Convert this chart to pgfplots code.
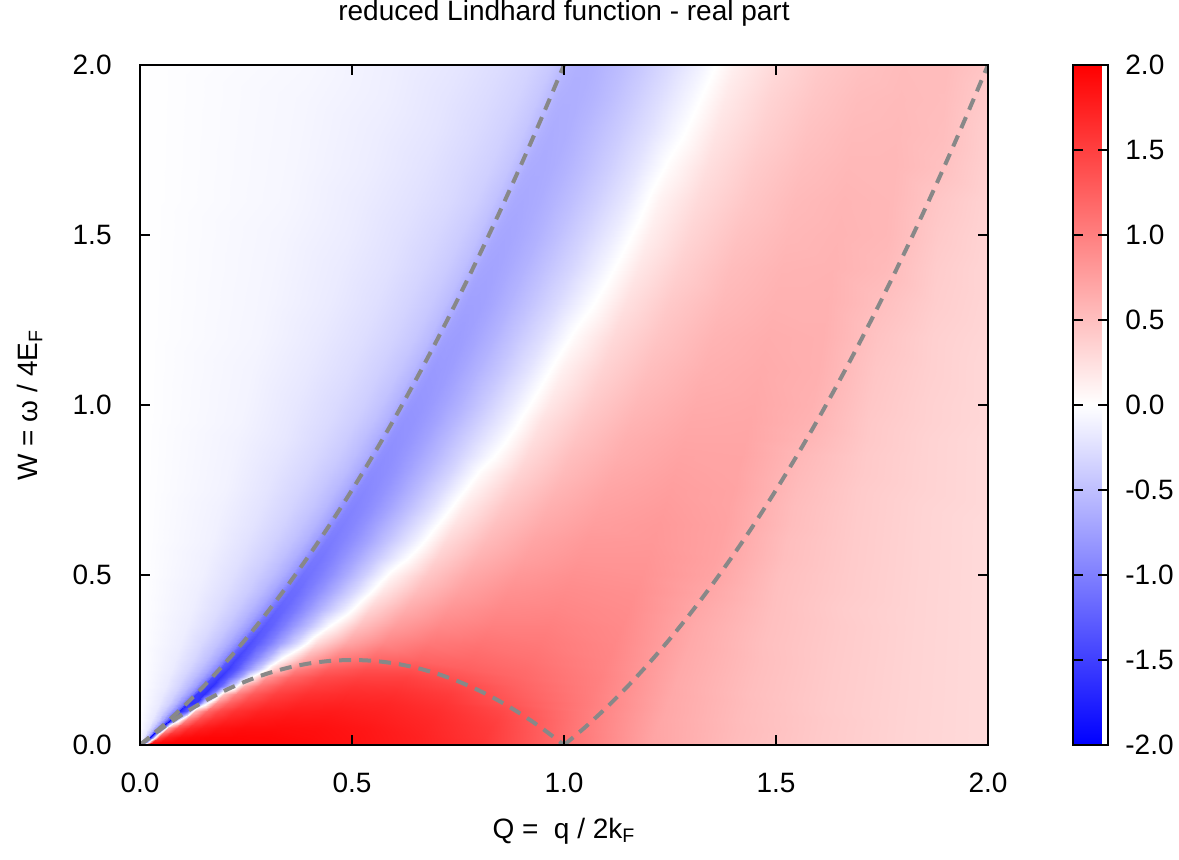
\documentclass[border=0pt]{standalone}
\usepackage{fontspec}
\setmainfont{Liberation Sans}
\usepackage{pgfplots}
\pgfplotsset{compat=1.18}
\definecolor{dashgray}{RGB}{136,136,136}

% Mesh: one row per W; each row holds Qr (position of the upper boundary at that W)
% node positions: c * Qr (left of boundary) and Qr + (2-Qr) * e (right of it)
\ExplSyntaxOn
\tl_new:N \MeshCoords
\clist_new:N \l_my_x_clist
\clist_const:Nn \c_my_c_clist {0,0.4,0.6,0.75,0.85,0.92,0.97}
\clist_const:Nn \c_my_e_clist {0,0.01,0.02,0.035,0.05,0.07,0.1,0.14,0.19,0.25,0.32,0.4,0.5,0.6,0.7,0.8,0.9,1.0}
\int_new:N \l_my_i_int
\NewDocumentCommand \MeshRow { m m m }
 {
  \clist_clear:N \l_my_x_clist
  \clist_map_inline:Nn \c_my_c_clist
   { \clist_put_right:Nx \l_my_x_clist { \fp_eval:n { round(##1 * #2, 4) } } }
  \clist_map_inline:Nn \c_my_e_clist
   { \clist_put_right:Nx \l_my_x_clist { \fp_eval:n { round(#2 + (2 - #2) * ##1, 4) } } }
  \int_zero:N \l_my_i_int
  \clist_map_inline:nn {#3}
   {
    \int_incr:N \l_my_i_int
    \tl_gput_right:Nx \MeshCoords { ( \clist_item:Nn \l_my_x_clist { \l_my_i_int } , #1 ) [ \fp_eval:n { ##1 / 100 } ] }
   }
 }
\ExplSyntaxOff

% values x 100
\MeshRow{0}{0}{200,200,200,200,200,200,200,200,200,200,200,199,199,198,196,192,186,176,158,115,72,54,42,34,29}
\MeshRow{0.01}{0.0099}{0,-21,-44,-73,-106,-147,-200,-200,181,193,197,198,198,197,195,192,185,175,158,113,72,53,42,34,29}
\MeshRow{0.025}{0.0244}{0,-20,-43,-71,-101,-137,-188,-200,139,173,188,192,195,195,194,190,184,174,156,111,71,53,42,34,29}
\MeshRow{0.05}{0.0477}{0,-19,-41,-67,-95,-127,-165,-200,72,136,166,178,186,190,190,188,182,171,153,108,70,53,42,34,29}
\MeshRow{0.075}{0.0701}{0,-18,-39,-64,-90,-118,-151,-194,-20,96,142,162,174,182,185,184,178,168,149,106,69,52,42,34,29}
\MeshRow{0.1}{0.0916}{0,-18,-38,-61,-85,-110,-140,-176,-126,50,116,143,161,173,178,179,174,164,143,104,69,52,41,34,29}
\MeshRow{0.125}{0.1124}{0,-17,-36,-59,-81,-104,-131,-164,-159,-33,86,122,146,162,171,173,170,159,134,103,68,52,41,34,29}
\MeshRow{0.15}{0.1325}{0,-17,-35,-56,-77,-99,-124,-154,-164,-104,46,97,129,150,162,166,164,153,128,101,68,51,41,34,29}
\MeshRow{0.175}{0.1519}{0,-16,-34,-54,-74,-95,-117,-144,-162,-122,-41,65,108,137,152,159,157,145,123,100,67,51,41,34,29}
\MeshRow{0.2}{0.1708}{0,-16,-33,-52,-72,-91,-112,-137,-157,-129,-72,1,82,120,141,149,149,134,118,99,67,51,41,34,29}
\MeshRow{0.225}{0.1892}{0,-15,-32,-51,-69,-88,-108,-132,-152,-132,-87,-39,38,98,126,138,137,125,115,97,67,51,41,34,29}
\MeshRow{0.25}{0.2071}{0,-15,-31,-49,-67,-85,-104,-126,-147,-131,-95,-56,6,66,104,120,122,119,111,96,67,51,41,34,29}
\MeshRow{0.3}{0.2416}{0,-14,-30,-47,-63,-79,-97,-118,-138,-128,-103,-74,-35,29,70,94,106,109,105,94,67,50,41,34,29}
\MeshRow{0.35}{0.2746}{0,-14,-28,-44,-60,-75,-92,-111,-129,-124,-105,-82,-51,1,49,77,93,100,100,92,67,50,41,34,29}
\MeshRow{0.4}{0.3062}{0,-13,-27,-42,-57,-71,-87,-105,-122,-119,-105,-86,-60,-21,33,64,83,93,95,90,68,50,40,34,29}
\MeshRow{0.45}{0.3367}{0,-13,-26,-40,-54,-68,-83,-100,-116,-115,-103,-88,-66,-32,20,53,74,87,91,88,70,50,41,34,29}
\MeshRow{0.5}{0.3660}{0,-12,-25,-39,-52,-65,-79,-96,-111,-110,-102,-89,-69,-39,8,44,67,81,87,85,72,50,41,34,29}
\MeshRow{0.55}{0.3944}{0,-12,-24,-37,-50,-63,-76,-92,-106,-107,-99,-88,-71,-44,-6,36,60,75,83,83,73,51,41,34,29}
\MeshRow{0.6}{0.4220}{0,-11,-23,-36,-48,-60,-74,-89,-102,-103,-97,-88,-73,-48,-15,29,54,71,80,81,73,51,41,34,29}
\MeshRow{0.65}{0.4487}{0,-11,-22,-35,-47,-58,-71,-86,-98,-100,-95,-87,-73,-51,-21,22,49,66,76,80,73,52,41,34,29}
\MeshRow{0.7}{0.4747}{0,-11,-22,-34,-45,-56,-69,-84,-95,-97,-93,-86,-74,-54,-26,16,44,62,73,78,72,52,41,34,30}
\MeshRow{0.75}{0.5}{0,-10,-21,-33,-44,-55,-67,-81,-92,-94,-91,-85,-74,-55,-29,10,39,58,70,76,72,53,41,35,30}
\MeshRow{0.8}{0.5247}{0,-10,-21,-32,-43,-53,-65,-79,-90,-91,-89,-84,-74,-57,-33,4,34,54,67,74,71,54,42,35,30}
\MeshRow{0.85}{0.5488}{0,-10,-20,-31,-41,-52,-63,-77,-87,-89,-87,-82,-73,-58,-35,-4,30,51,64,72,71,55,42,35,30}
\MeshRow{0.9}{0.5724}{0,-10,-19,-30,-40,-51,-62,-75,-85,-87,-85,-81,-73,-58,-37,-9,26,47,62,70,70,58,43,35,30}
\MeshRow{0.95}{0.5954}{0,-9,-19,-29,-39,-49,-60,-73,-83,-85,-84,-80,-73,-59,-39,-13,23,44,59,68,69,60,43,36,31}
\MeshRow{1.0}{0.6180}{0,-9,-19,-29,-38,-48,-59,-72,-81,-83,-82,-79,-72,-60,-41,-16,19,41,56,66,68,61,44,36,31}
\MeshRow{1.1}{0.6619}{0,-9,-18,-27,-37,-46,-56,-69,-77,-80,-79,-77,-71,-60,-44,-21,12,35,51,62,66,62,45,37,31}
\MeshRow{1.2}{0.7042}{0,-8,-17,-26,-35,-44,-54,-67,-74,-76,-77,-75,-70,-60,-45,-25,5,30,46,59,64,62,47,37,32}
\MeshRow{1.3}{0.7450}{0,-8,-16,-25,-34,-43,-52,-64,-71,-74,-74,-73,-69,-60,-47,-29,-4,24,42,55,61,61,50,39,33}
\MeshRow{1.4}{0.7845}{0,-8,-16,-24,-33,-41,-51,-62,-69,-71,-72,-71,-67,-60,-48,-32,-10,19,37,52,59,60,54,40,33}
\MeshRow{1.5}{0.8229}{0,-8,-15,-24,-32,-40,-49,-61,-67,-69,-70,-69,-66,-60,-49,-34,-14,14,33,48,56,59,56,42,34}
\MeshRow{1.6}{0.8601}{0,-7,-15,-23,-30,-38,-48,-59,-65,-67,-68,-67,-65,-59,-50,-36,-18,10,29,44,54,58,56,44,35}
\MeshRow{1.7}{0.8964}{0,-7,-14,-22,-30,-37,-46,-57,-63,-65,-66,-66,-64,-59,-50,-38,-21,4,25,41,51,56,56,49,37}
\MeshRow{1.8}{0.9318}{0,-7,-14,-21,-29,-36,-45,-56,-61,-63,-65,-64,-63,-58,-50,-39,-24,-3,21,37,48,54,55,51,38}
\MeshRow{1.9}{0.9663}{0,-7,-13,-21,-28,-35,-44,-55,-60,-62,-63,-63,-62,-58,-51,-40,-26,-7,17,34,45,52,54,52,41}
\MeshRow{2.0}{1.0}{0,-6,-13,-20,-27,-34,-43,-54,-58,-60,-62,-62,-61,-57,-51,-41,-28,-11,13,30,42,49,53,53,45}

\pgfplotsset{
  /pgf/number format/.cd, fixed, fixed zerofill, precision=1, assume math mode=true,
}

\begin{document}
\begin{tikzpicture}
\begin{axis}[
  at={(70pt,57pt)}, anchor=south west,
  scale only axis, width=424pt, height=340pt,
  xmin=0, xmax=2, ymin=0, ymax=2,
  xtick={0,0.5,1,1.5,2}, ytick={0,0.5,1,1.5,2},
  tick align=inside, xtick pos=both, ytick pos=both,
  major tick length=5pt,
  axis line style={line width=1.3pt},
  every tick/.style={black, line width=1.3pt},
  axis on top,
  tick label style={font=\fontsize{14}{16}\selectfont, inner sep=0pt},
  xticklabel style={anchor=north, yshift=-14pt},
  yticklabel style={anchor=east, xshift=-14pt},
  title={reduced Lindhard function - real part},
  title style={at={(axis description cs:0.5,1.0485)}, anchor=base, font=\fontsize{14}{16}\selectfont, inner sep=0pt},
  xlabel={Q = \ q / 2k\textsubscript{F}},
  xlabel style={at={(axis description cs:0.5,-0.1368)}, anchor=base, font=\fontsize{14}{16}\selectfont, inner sep=0pt},
  ylabel={W = ω / 4E\textsubscript{F}},
  ylabel style={at={(axis description cs:-0.1203,0.5)}, anchor=base, font=\fontsize{14}{16}\selectfont, inner sep=0pt},
  colormap={bwr}{rgb255=(0,0,255) rgb255=(255,255,255) rgb255=(255,0,0)},
  point meta min=-2, point meta max=2,
  colorbar,
  colorbar shift/.style={},
  colorbar style={
    at={(parent axis.north east)}, anchor=north west, xshift=42.5pt,
    width=17.5pt,
    ytick={-2,-1.5,-1,-0.5,0,0.5,1,1.5,2},
    ytick pos=both, yticklabel pos=right,
    tick align=inside, major tick length=5pt,
    axis line style={line width=1.3pt},
    every tick/.style={black, line width=1.3pt},
    axis on top,
    yticklabel style={font=\fontsize{14}{16}\selectfont, inner sep=0pt, anchor=west, xshift=8.5pt},
  },
]
\edef\temp{\noexpand\addplot[surf, shader=interp, mesh/cols=25, point meta=explicit] coordinates {\MeshCoords};}
\temp

\addplot[dashgray, line width=2pt, dash pattern=on 6pt off 4pt, smooth] coordinates {
(0,0) (0.05,0.0525) (0.1,0.11) (0.15,0.1725) (0.2,0.24) (0.25,0.3125) (0.3,0.39) (0.35,0.4725) (0.4,0.56) (0.45,0.6525) (0.5,0.75) (0.55,0.8525) (0.6,0.96) (0.65,1.0725) (0.7,1.19) (0.75,1.3125) (0.8,1.44) (0.85,1.5725) (0.9,1.71) (0.95,1.8525) (1.0,2.0)};
\addplot[dashgray, line width=2pt, dash pattern=on 6pt off 4pt, smooth] coordinates {
(0,0) (0.05,0.0475) (0.1,0.09) (0.15,0.1275) (0.2,0.16) (0.25,0.1875) (0.3,0.21) (0.35,0.2275) (0.4,0.24) (0.45,0.2475) (0.5,0.25) (0.55,0.2475) (0.6,0.24) (0.65,0.2275) (0.7,0.21) (0.75,0.1875) (0.8,0.16) (0.85,0.1275) (0.9,0.09) (0.95,0.0475) (1.0,0)};
\addplot[dashgray, line width=2pt, dash pattern=on 6pt off 4pt, smooth] coordinates {
(1.0,0) (1.05,0.0525) (1.1,0.11) (1.15,0.1725) (1.2,0.24) (1.25,0.3125) (1.3,0.39) (1.35,0.4725) (1.4,0.56) (1.45,0.6525) (1.5,0.75) (1.55,0.8525) (1.6,0.96) (1.65,1.0725) (1.7,1.19) (1.75,1.3125) (1.8,1.44) (1.85,1.5725) (1.9,1.71) (1.95,1.8525) (2.0,2.0)};
\end{axis}
\pgfresetboundingbox
\path[use as bounding box] (0,0) rectangle (589.5pt,429.5pt);
\end{tikzpicture}
\end{document}
